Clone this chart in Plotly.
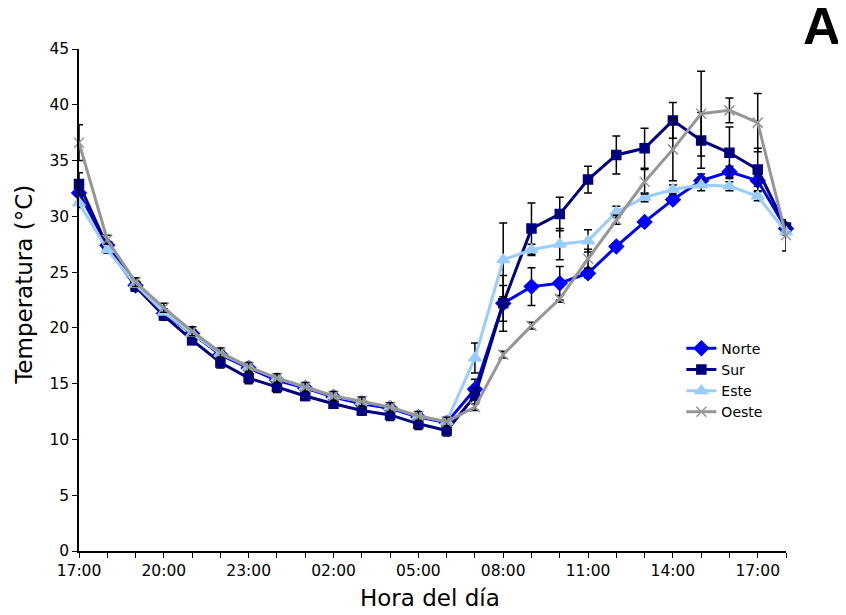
import plotly.graph_objects as go

hours = ["17:00", "18:00", "19:00", "20:00", "21:00", "22:00", "23:00", "00:00",
         "01:00", "02:00", "03:00", "04:00", "05:00", "06:00", "07:00", "08:00",
         "09:00", "10:00", "11:00", "12:00", "13:00", "14:00", "15:00", "16:00",
         "17:00", "18:00"]

norte = [32.1, 27.4, 23.8, 21.3, 19.5, 17.6, 16.4, 15.3, 14.6, 13.8, 13.2, 12.8, 12.0,
         11.5, 14.5, 22.2, 23.7, 24.0, 24.9, 27.3, 29.5, 31.5, 33.2, 34.0, 33.2, 28.9]
norte_err = [0.5, 0.3, 0.3, 0.3, 0.3, 0.3, 0.3, 0.3, 0.3, 0.3, 0.3, 0.3, 0.3,
             0.3, 0.9, 1.6, 1.7, 1.5, 0.4, 0.3, 0.3, 0.3, 0.6, 0.5, 0.5, 0.3]

sur = [32.9, 27.3, 23.7, 21.1, 18.9, 16.9, 15.5, 14.7, 13.9, 13.2, 12.6, 12.2, 11.4,
       10.8, 13.9, 22.2, 28.9, 30.2, 33.3, 35.5, 36.1, 38.6, 36.8, 35.7, 34.2, 29.0]
sur_err = [1.0, 0.4, 0.4, 0.4, 0.4, 0.5, 0.5, 0.5, 0.4, 0.4, 0.4, 0.5, 0.5,
           0.5, 0.7, 2.5, 2.3, 1.5, 1.2, 1.7, 1.8, 1.6, 2.5, 2.3, 1.9, 0.5]

este = [31.2, 27.0, 23.9, 21.4, 19.5, 17.7, 16.5, 15.5, 14.7, 13.9, 13.4, 12.9, 12.1,
        11.6, 17.3, 26.1, 27.0, 27.5, 27.8, 30.4, 31.7, 32.4, 32.8, 32.7, 31.8, 28.6]
este_err = [0.4, 0.3, 0.3, 0.3, 0.3, 0.3, 0.3, 0.3, 0.3, 0.3, 0.3, 0.3, 0.3,
            0.3, 1.35, 3.3, 0.5, 1.4, 1.0, 0.5, 0.4, 0.4, 0.5, 0.4, 0.4, 0.3]

oeste = [36.6, 27.9, 24.1, 21.8, 19.7, 17.8, 16.5, 15.5, 14.7, 13.9, 13.4, 12.9, 12.1,
         11.6, 12.9, 17.6, 20.2, 22.6, 26.2, 29.7, 33.1, 36.0, 39.2, 39.5, 38.4, 28.3]
oeste_err = [1.6, 0.4, 0.4, 0.4, 0.4, 0.4, 0.4, 0.4, 0.4, 0.4, 0.4, 0.4, 0.4,
             0.4, 0.3, 0.3, 0.3, 0.3, 0.85, 0.4, 1.1, 2.8, 3.8, 1.1, 2.6, 1.4]

series = [
    ("Norte", norte, norte_err, "#0000FF", "diamond", 11),
    ("Sur", sur, sur_err, "#000080", "square", 9),
    ("Este", este, este_err, "#99CCFF", "triangle-up", 11),
    ("Oeste", oeste, oeste_err, "#969696", "x-thin-open", 10),
]

x = list(range(len(hours)))
tick_idx = list(range(0, len(hours), 3))

fig = go.Figure()
for name, vals, errs, color, sym, size in series:
    fig.add_trace(go.Scatter(
        x=x, y=vals, name=name, mode="lines+markers",
        line=dict(color=color, width=3),
        marker=dict(symbol=sym, size=size, color=color,
                    line=dict(color=color, width=1.5)),
        error_y=dict(type="data", array=errs, visible=True,
                     color="black", thickness=1.5, width=4),
        cliponaxis=False,
    ))

font_family = "DejaVu Sans, Verdana, sans-serif"

fig.update_layout(
    width=838, height=607,
    margin=dict(l=71, r=60, t=41, b=64),
    paper_bgcolor="white", plot_bgcolor="white",
    font=dict(family=font_family, color="black", size=15),
    showlegend=True,
    legend=dict(x=0.852, y=0.435, xanchor="left", yanchor="top",
                font=dict(size=14, family=font_family),
                bgcolor="rgba(0,0,0,0)", itemwidth=30, tracegroupgap=0),
    xaxis=dict(
        range=[0, len(hours) - 1],
        tickmode="array", tickvals=tick_idx,
        ticktext=[hours[i] for i in tick_idx],
        ticks="outside", ticklen=5, tickwidth=1.2, tickcolor="black",
        minor=dict(dtick=1, tick0=0, ticks="outside", ticklen=5,
                   tickwidth=1.2, tickcolor="black", showgrid=False),
        showline=True, linecolor="black", linewidth=1.5,
        showgrid=False, zeroline=False,
        tickfont=dict(size=15.5),
    ),
    yaxis=dict(
        range=[0, 45], dtick=5, tick0=0,
        ticks="outside", ticklen=5, tickwidth=1.2, tickcolor="black",
        showline=True, linecolor="black", linewidth=1.5,
        showgrid=False, zeroline=False,
        tickfont=dict(size=15.5),
    ),
    annotations=[
        dict(text="Hora del día", xref="paper", yref="paper",
             x=0.497, y=-0.094, xanchor="center", yanchor="middle",
             showarrow=False, font=dict(size=23, family=font_family)),
        dict(text="Temperatura (°C)", xref="paper", yref="paper",
             x=-0.078, y=0.53, xanchor="center", yanchor="middle",
             textangle=-90, showarrow=False,
             font=dict(size=23, family=font_family)),
        dict(text="<b>A</b>", xref="paper", yref="paper",
             x=1.051, y=1.045, xanchor="center", yanchor="middle",
             showarrow=False,
             font=dict(size=52, family="Liberation Sans, Arial, sans-serif")),
    ],
)

fig.write_html("out.html")
